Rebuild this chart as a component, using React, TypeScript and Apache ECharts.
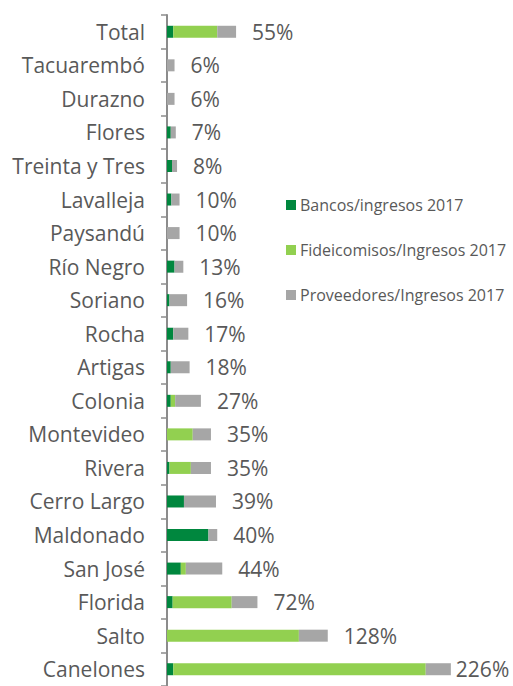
import React, { useEffect, useRef } from "react";
import * as echarts from "echarts";

const categories = [
  "Total", "Tacuarembó", "Durazno", "Flores", "Treinta y Tres", "Lavalleja",
  "Paysandú", "Río Negro", "Soriano", "Rocha", "Artigas", "Colonia",
  "Montevideo", "Rivera", "Cerro Largo", "Maldonado", "San José", "Florida",
  "Salto", "Canelones",
];
const bancos = [5, 0, 0, 3, 4, 3.5, 0, 6, 2, 5, 3, 3, 0, 2, 13.5, 33, 11, 4.5, 0, 5];
const fideicomisos = [35, 0, 0, 0, 0, 0, 0, 0, 0, 0, 0, 3.5, 20.5, 17, 0, 0, 4, 47, 105, 201];
const proveedores = [15, 6, 6, 4, 4, 6.5, 10, 7, 14, 12, 15, 20.5, 14.5, 16, 25.5, 7, 29, 20.5, 23, 20];
const totals = [55, 6, 6, 7, 8, 10, 10, 13, 16, 17, 18, 27, 35, 35, 39, 40, 44, 72, 128, 226];
const seriesNames = ["Bancos/ingresos 2017", "Fideicomisos/Ingresos 2017", "Proveedores/Ingresos 2017"];

const FONT = "'Open Sans', 'Noto Sans', sans-serif";

export default function App() {
  const ref = useRef<HTMLDivElement>(null);
  useEffect(() => {
    if (!ref.current) return;
    const chart = echarts.init(ref.current, null, { renderer: "svg" });
    const lastIdx = categories.length - 1;
    chart.setOption({
      animation: false,
      grid: { left: 167, top: 15, width: 314, height: 674 },
      xAxis: { type: "value", min: 0, max: 250, show: false },
      yAxis: {
        type: "category",
        data: categories,
        inverse: true,
        axisLine: { show: true, lineStyle: { color: "#8c8c8c", width: 2 } },
        axisTick: { show: true, length: 6, interval: 0, lineStyle: { color: "#8c8c8c", width: 1.5 } },
        axisLabel: { margin: 22, fontSize: 21, color: "#595959", fontFamily: FONT },
        splitLine: { show: false },
      },
      legend: {
        orient: "vertical",
        left: 281,
        top: 190,
        itemWidth: 10,
        itemHeight: 10,
        itemGap: 25,
        icon: "rect",
        data: seriesNames,
        textStyle: { fontSize: 16, color: "#595959", fontFamily: FONT, lineHeight: 20, padding: [0, 0, 0, -1] },
      },
      series: [
        {
          name: seriesNames[0], type: "bar", stack: "s", barWidth: 12,
          itemStyle: { color: "#00873E" }, data: bancos,
        },
        {
          name: seriesNames[1], type: "bar", stack: "s", barWidth: 12,
          itemStyle: { color: "#92D050" }, data: fideicomisos,
        },
        {
          name: seriesNames[2], type: "bar", stack: "s", barWidth: 12,
          itemStyle: { color: "#A6A6A6" },
          label: {
            show: true, position: "right", distance: 16,
            fontSize: 21, color: "#595959", fontFamily: FONT,
            formatter: (p: any) => totals[p.dataIndex] + "%",
          },
          data: proveedores.map((v, i) =>
            i === lastIdx ? { value: v, label: { distance: 5 } } : v
          ),
        },
      ],
    });
    return () => chart.dispose();
  }, []);
  return (
    <div
      ref={ref}
      style={{ position: "fixed", left: 0, top: 0, width: 513, height: 686, background: "#fff" }}
    />
  );
}
